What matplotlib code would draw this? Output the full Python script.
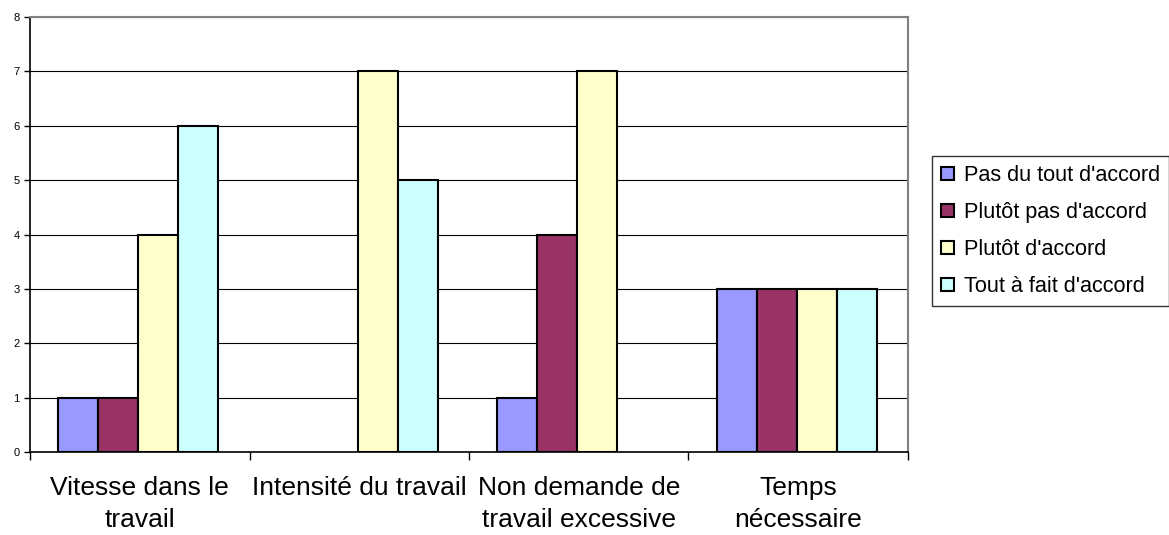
import matplotlib
matplotlib.use("Agg")
import matplotlib.pyplot as plt
import numpy as np

plt.rcParams['font.family'] = ['Liberation Sans', 'DejaVu Sans']

categories = ["Vitesse dans le\ntravail", "Intensité du travail",
              "Non demande de\ntravail excessive", "Temps\nnécessaire"]
series_names = ["Pas du tout d'accord", "Plutôt pas d'accord",
                "Plutôt d'accord", "Tout à fait d'accord"]
pas_du_tout = [1, 0, 1, 3]
plutot_pas = [1, 0, 4, 3]
plutot = [4, 7, 7, 3]
tout_a_fait = [6, 5, 0, 3]
colors = ["#9999FF", "#993366", "#FFFFCC", "#CCFFFF"]

series = [pas_du_tout, plutot_pas, plutot, tout_a_fait]

fig = plt.figure(figsize=(11.69, 5.35), dpi=100)
ax = fig.add_axes([0.0257, 0.155, 0.751, 0.813])

x = np.arange(len(categories))
width = 0.182
for i, (vals, name, c) in enumerate(zip(series, series_names, colors)):
    bars = ax.bar(x + (i - 1.5) * width - 0.007, vals, width, color=c,
                  edgecolor="black", linewidth=1.5, label=name, zorder=3)
    # zero values: nothing drawn, like the original
    for b, v in zip(bars, vals):
        if v == 0:
            b.set_visible(False)

ax.set_xlim(-0.5, len(categories) - 0.5)
ax.set_ylim(0, 8)
ax.set_yticks(range(0, 9))
ax.tick_params(axis='y', labelsize=8, length=4, width=1, direction='out')
ax.yaxis.grid(True, color="black", linewidth=0.8, zorder=0)

ax.set_xticks(x)
ax.set_xticklabels(categories, fontsize=19, linespacing=1.42)
ax.tick_params(axis='x', length=0, pad=17)
ax.set_xticks(np.arange(-0.5, len(categories)), minor=True)
ax.tick_params(axis='x', which='minor', length=6, width=1, direction='out')

for side in ['left', 'bottom']:
    ax.spines[side].set_color('black')
    ax.spines[side].set_linewidth(1.2)
for side in ['top', 'right']:
    ax.spines[side].set_color('#808080')
    ax.spines[side].set_linewidth(1.5)

leg = fig.legend(loc='upper left', bbox_to_anchor=(932 / 1169, 1 - 156 / 535),
                 fontsize=15.6, frameon=True, fancybox=False, edgecolor='black',
                 handlelength=0.6, handleheight=0.6, handletextpad=0.45,
                 labelspacing=0.74, borderpad=0.42, borderaxespad=0)
leg.get_frame().set_linewidth(1)

fig.savefig("out.png", dpi=100)
